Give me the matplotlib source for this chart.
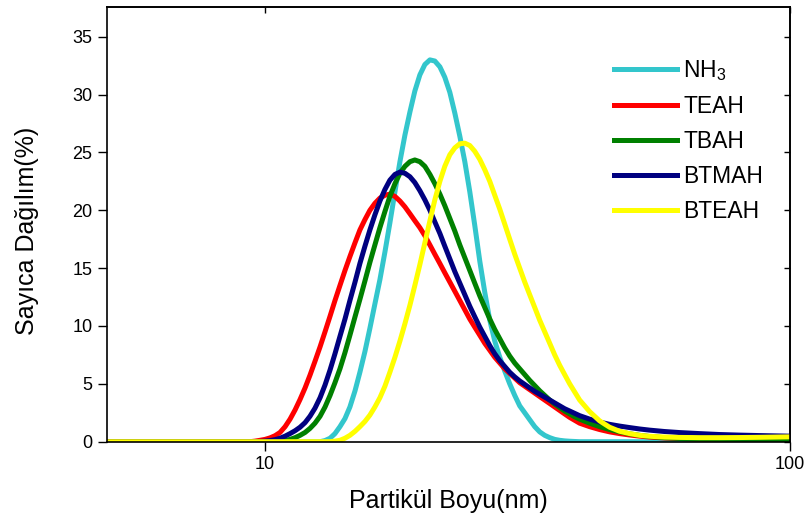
import numpy as np
import matplotlib
matplotlib.use("Agg")
import matplotlib.pyplot as plt
from matplotlib.ticker import FixedLocator, NullLocator, FixedFormatter

plt.rcParams['font.family'] = ['Liberation Sans', 'DejaVu Sans']
plt.rcParams['mathtext.fontset'] = 'custom'
plt.rcParams['mathtext.rm'] = 'Liberation Sans'
plt.rcParams['mathtext.default'] = 'regular'

# size bins (nm) shared by all samples
size_nm = [5.0,
           9.36, 9.57, 9.78, 10.0, 10.22, 10.45, 10.68, 10.92, 11.16, 11.41,
           11.66, 11.92, 12.18, 12.45, 12.73, 13.01, 13.30, 13.59, 13.89, 14.20,
           14.51, 14.84, 15.16, 15.50, 15.84, 16.19, 16.55, 16.92, 17.29, 17.68,
           18.07, 18.47, 18.88, 19.29, 19.72, 20.16, 20.61, 21.06, 21.53, 22.00,
           22.49, 22.99, 23.50, 24.02, 24.55, 25.09, 25.65, 26.22, 26.80, 27.39,
           28.00, 28.62, 29.25, 29.90, 30.56, 31.24, 31.93, 32.64, 33.36, 34.10,
           34.86, 35.63, 36.42, 37.22, 38.05, 38.89, 39.75,
           41.53, 43.39, 45.33, 47.36, 49.49, 51.70, 54.02,
           57.68, 61.60, 67.24, 73.40, 80.12, 87.46, 100.0]

# number distribution (%)
nh3 = [0.0,
       0, 0, 0, 0, 0, 0, 0, 0, 0, 0,
       0, 0, 0, 0, 0, 0.1, 0.3, 0.7, 1.3, 2.0,
       3.0, 4.4, 6.0, 7.8, 9.8, 11.9, 14.0, 16.4, 18.9, 21.6,
       24.2, 26.5, 28.5, 30.3, 31.7, 32.6, 33.0, 32.9, 32.4, 31.5,
       30.2, 28.4, 26.4, 24.2, 21.6, 18.7, 15.6, 12.9, 10.5, 8.7,
       7.3, 6.1, 5.0, 4.0, 3.1, 2.5, 1.9, 1.3, 0.85, 0.55,
       0.35, 0.2, 0.12, 0.07, 0.04, 0.02, 0.0,
       0, 0, 0, 0, 0, 0, 0,
       0, 0, 0, 0, 0, 0, 0]

teah = [0.0,
        0.0, 0.05, 0.12, 0.2, 0.33, 0.52, 0.8, 1.3, 1.95, 2.75,
        3.65, 4.65, 5.75, 6.95, 8.2, 9.5, 10.85, 12.2, 13.5, 14.8,
        16.0, 17.2, 18.3, 19.2, 20.0, 20.6, 21.05, 21.3, 21.4, 21.2,
        20.8, 20.3, 19.7, 19.1, 18.5, 17.8, 17.0, 16.2, 15.4, 14.6,
        13.8, 13.0, 12.2, 11.4, 10.6, 9.9, 9.2, 8.5, 7.9, 7.3,
        6.8, 6.3, 5.9, 5.5, 5.1, 4.8, 4.5, 4.2, 3.9, 3.6,
        3.3, 3.0, 2.7, 2.4, 2.1, 1.85, 1.6,
        1.3, 1.05, 0.85, 0.7, 0.58, 0.48, 0.4,
        0.32, 0.27, 0.22, 0.19, 0.17, 0.16, 0.15]

tbah = [0.0,
        0, 0, 0, 0, 0, 0.02, 0.05, 0.1, 0.2, 0.35,
        0.55, 0.8, 1.15, 1.6, 2.2, 3.0, 4.0, 5.1, 6.3, 7.7,
        9.2, 10.8, 12.3, 13.9, 15.5, 17.0, 18.5, 19.9, 21.2, 22.3,
        23.2, 23.8, 24.2, 24.35, 24.2, 23.8, 23.1, 22.3, 21.4, 20.4,
        19.3, 18.2, 17.0, 15.9, 14.8, 13.7, 12.6, 11.6, 10.6, 9.7,
        8.9, 8.1, 7.4, 6.8, 6.3, 5.8, 5.3, 4.85, 4.4, 4.0,
        3.6, 3.25, 2.95, 2.65, 2.4, 2.15, 1.95,
        1.6, 1.3, 1.05, 0.85, 0.68, 0.55, 0.45,
        0.35, 0.28, 0.22, 0.19, 0.17, 0.16, 0.15]

btmah = [0.0,
         0, 0, 0.02, 0.05, 0.1, 0.18, 0.3, 0.48, 0.7, 0.95,
         1.25, 1.65, 2.2, 2.9, 3.8, 4.9, 6.2, 7.6, 9.1, 10.6,
         12.2, 13.8, 15.4, 16.9, 18.3, 19.6, 20.8, 21.8, 22.6, 23.1,
         23.3, 23.2, 22.9, 22.4, 21.7, 20.9, 20.0, 19.0, 18.0, 16.9,
         15.8, 14.7, 13.7, 12.7, 11.7, 10.8, 9.9, 9.1, 8.3, 7.6,
         7.0, 6.5, 6.0, 5.6, 5.25, 4.95, 4.65, 4.35, 4.1, 3.85,
         3.6, 3.35, 3.1, 2.85, 2.65, 2.45, 2.25,
         1.95, 1.7, 1.5, 1.35, 1.22, 1.1, 1.0,
         0.88, 0.79, 0.7, 0.62, 0.57, 0.53, 0.48]

bteah = [0.0,
         0, 0, 0, 0, 0, 0, 0, 0, 0, 0,
         0, 0, 0, 0, 0, 0, 0, 0.05, 0.12, 0.3,
         0.55, 0.9, 1.3, 1.75, 2.3, 3.0, 3.8, 4.8, 6.0, 7.3,
         8.7, 10.2, 11.8, 13.5, 15.3, 17.2, 19.1, 20.9, 22.5, 23.8,
         24.8, 25.4, 25.75, 25.8, 25.6, 25.1, 24.4, 23.5, 22.5, 21.3,
         20.1, 18.8, 17.5, 16.2, 15.0, 13.8, 12.7, 11.6, 10.5, 9.5,
         8.5, 7.5, 6.6, 5.8, 5.0, 4.3, 3.6,
         2.6, 1.8, 1.25, 0.9, 0.7, 0.55, 0.47,
         0.4, 0.37, 0.35, 0.35, 0.36, 0.38, 0.42]

series = [
    (nh3, 'NH$_3$', '#33c6cc'),
    (teah, 'TEAH', '#ff0000'),
    (tbah, 'TBAH', '#008000'),
    (btmah, 'BTMAH', '#000080'),
    (bteah, 'BTEAH', '#ffff00'),
]

fig = plt.figure(figsize=(8.07, 5.21), dpi=100)
ax = fig.add_axes([107 / 807, 1 - 441.7 / 521, (790 - 107) / 807, (441.7 - 7) / 521])

for y, name, color in series:
    ax.plot(size_nm, y, color=color, lw=3.6, label=name, solid_joinstyle='round')

ax.set_xscale('log')
ax.set_xlim(5, 100)
ax.set_ylim(0, 37.57)

ax.xaxis.set_major_locator(FixedLocator([10, 100]))
ax.xaxis.set_major_formatter(FixedFormatter(['10', '100']))
ax.xaxis.set_minor_locator(NullLocator())
ax.set_yticks(np.arange(0, 36, 5))

ax.tick_params(axis='both', which='major', labelsize=13, width=1.0, length=6.5,
               direction='out', pad=4)

# mirrored inward ticks on the top and right spines
sec_x = ax.secondary_xaxis('top')
sec_x.xaxis.set_major_locator(FixedLocator([10, 100]))
sec_x.xaxis.set_minor_locator(NullLocator())
sec_x.tick_params(direction='in', length=4, width=1.0, labeltop=False)
sec_y = ax.secondary_yaxis('right')
sec_y.set_yticks(np.arange(0, 36, 5))
sec_y.tick_params(direction='in', length=4, width=1.0, labelright=False)

for sp in list(ax.spines.values()) + [sec_x.spines['top'], sec_y.spines['right']]:
    sp.set_linewidth(1.2)

ax.set_xlabel('Partikül Boyu(nm)', fontsize=18)
ax.set_ylabel('Sayıca Dağılım(%)', fontsize=18)
ax.xaxis.set_label_coords(0.5, -0.108)
ax.yaxis.set_label_coords(-0.099, 0.484)

ax.legend(loc='upper left', bbox_to_anchor=(603 / 807, 1 - 47 / 521),
          bbox_transform=fig.transFigure, frameon=False, borderpad=0,
          handlelength=2.75, handletextpad=0.25, labelspacing=0.52, fontsize=16.5)

fig.savefig('out.png', dpi=100)
